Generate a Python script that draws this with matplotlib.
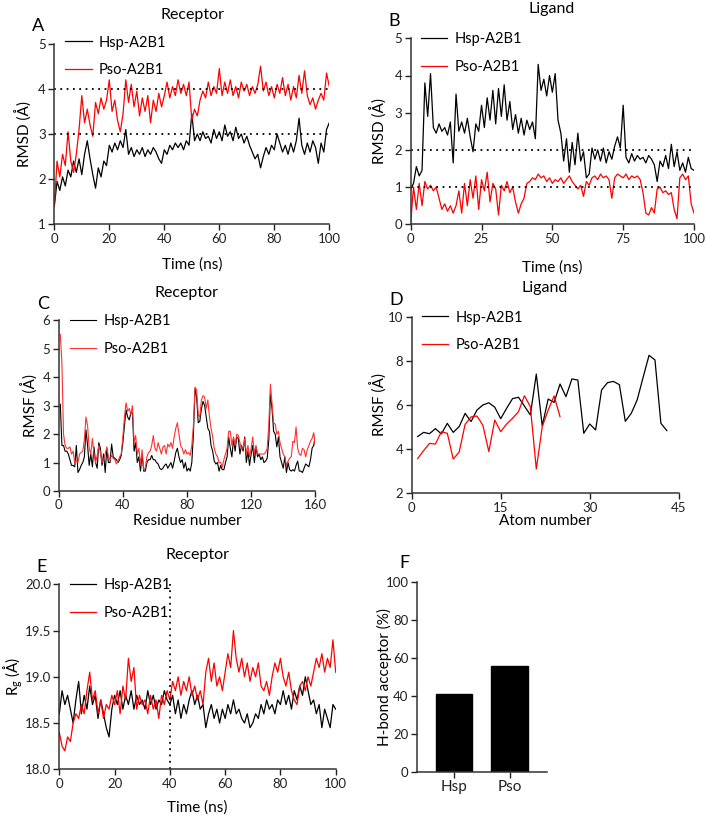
import matplotlib
matplotlib.use("Agg")
import matplotlib.pyplot as plt
import numpy as np

plt.rcParams['font.family'] = ['Lato', 'DejaVu Sans']
plt.rcParams['mathtext.fontset'] = 'custom'
plt.rcParams['mathtext.rm'] = 'Lato'
plt.rcParams['mathtext.it'] = 'Lato'

# ---------------- data ----------------
time_ns = list(range(0, 101))

rmsd_rec_hsp = [1.40, 1.95, 1.75, 2.05, 1.85, 2.20, 2.05, 2.40, 2.15, 2.45, 2.10, 2.55, 2.85, 2.45, 2.10, 1.80,
                2.25, 2.05, 2.40, 2.30, 2.75, 2.60, 2.80, 2.65, 2.85, 2.70, 3.10, 2.55, 2.70, 2.50, 2.65, 2.55,
                2.70, 2.50, 2.65, 2.55, 2.70, 2.60, 2.45, 2.35, 2.65, 2.55, 2.75, 2.65, 2.80, 2.70, 2.80, 2.65,
                2.85, 2.75, 3.45, 2.85, 3.00, 2.85, 3.05, 2.90, 2.95, 2.80, 3.10, 2.90, 3.05, 2.85, 3.20, 2.95,
                3.05, 2.85, 3.15, 2.90, 3.00, 2.80, 2.95, 2.75, 2.60, 2.45, 2.55, 2.25, 2.50, 2.70, 2.55, 2.75,
                2.65, 3.00, 2.80, 2.60, 2.75, 2.55, 2.80, 2.60, 2.85, 3.35, 2.75, 2.55, 2.80, 2.60, 2.85, 2.70,
                2.35, 2.80, 2.60, 3.10, 3.25]
rmsd_rec_pso = [1.40, 2.40, 2.05, 2.55, 2.30, 3.05, 2.40, 2.15, 2.55, 3.10, 3.85, 3.25, 3.55, 3.20, 2.95, 3.70,
                3.45, 3.80, 3.55, 3.75, 4.20, 3.50, 3.75, 3.30, 3.05, 3.45, 4.20, 3.70, 4.10, 3.60, 3.95, 3.40,
                3.80, 3.50, 3.85, 3.25, 3.75, 3.50, 3.90, 3.60, 3.85, 4.15, 3.80, 4.05, 3.85, 4.20, 3.90, 4.10,
                3.85, 4.15, 3.30, 3.55, 3.40, 3.75, 3.95, 3.80, 4.15, 3.85, 4.05, 3.90, 4.45, 3.85, 4.15, 3.90,
                4.20, 3.85, 4.05, 3.80, 4.15, 3.95, 4.10, 3.85, 4.05, 3.90, 4.10, 4.50, 3.95, 4.15, 3.85, 4.05,
                3.80, 4.10, 3.90, 4.25, 3.85, 4.10, 3.75, 4.05, 3.80, 4.30, 3.90, 4.40, 3.85, 3.65, 3.80, 3.55,
                3.75, 3.90, 3.75, 4.35, 4.05]

rmsd_lig_hsp = [0.95, 1.10, 1.55, 1.30, 1.45, 3.80, 2.90, 4.05, 2.60, 2.45, 2.70, 2.50, 2.60, 2.40, 2.75, 1.65,
                3.50, 2.50, 2.75, 2.45, 2.85, 2.35, 1.95, 2.70, 2.50, 3.20, 2.60, 3.40, 2.80, 3.60, 2.70, 3.65,
                2.90, 3.75, 2.80, 3.30, 2.55, 2.95, 2.45, 2.85, 2.40, 2.80, 2.55, 2.75, 2.30, 4.30, 3.60, 3.90,
                3.45, 4.00, 3.55, 4.05, 2.80, 2.45, 1.70, 2.30, 1.40, 2.20, 1.60, 2.45, 1.70, 1.95, 1.25, 1.35,
                2.05, 1.75, 2.00, 1.70, 2.05, 1.65, 1.95, 1.75, 2.10, 2.35, 2.05, 3.20, 1.80, 1.65, 1.90, 1.70,
                1.85, 1.75, 1.80, 1.65, 1.85, 1.75, 1.60, 1.15, 1.70, 1.55, 1.85, 1.50, 2.15, 1.55, 1.95, 1.45,
                1.65, 1.40, 1.80, 1.50, 1.45]
rmsd_lig_pso = [0.05, 1.00, 0.40, 1.10, 0.50, 1.15, 0.95, 1.05, 0.90, 1.00, 0.70, 0.40, 0.55, 0.35, 0.50, 0.30,
                0.50, 0.90, 0.30, 1.10, 0.50, 1.20, 0.70, 1.30, 0.40, 1.20, 0.90, 1.40, 0.60, 1.10, 0.95, 0.25,
                1.05, 0.90, 1.15, 0.85, 1.00, 0.60, 0.30, 0.55, 0.70, 1.10, 1.15, 1.25, 1.20, 1.35, 1.25, 1.30,
                1.15, 1.25, 1.10, 1.20, 1.15, 1.25, 1.10, 1.20, 1.30, 1.15, 1.05, 0.95, 1.05, 0.75, 1.15, 1.05,
                1.25, 1.30, 1.20, 1.35, 1.25, 1.30, 1.20, 0.70, 1.25, 1.35, 1.30, 1.25, 1.35, 1.20, 1.30, 1.25,
                1.30, 1.20, 0.85, 0.30, 0.25, 0.45, 0.30, 0.95, 1.00, 0.85, 0.90, 0.80, 0.85, 0.40, 0.15, 1.25,
                1.35, 1.20, 1.30, 0.55, 0.30]

residues = list(range(1, 161))
rmsf_rec_hsp = [3.05, 1.6, 1.6, 1.4, 1.4, 1.3, 1.1, 0.9, 0.9, 0.85, 1.6, 0.65, 0.75, 0.9, 1.0, 1.2, 2.15, 1.6, 0.9, 1.3,
                0.85, 1.55, 1.0, 0.8, 1.7, 1.5, 0.9, 1.3, 0.65, 1.5, 1.0, 1.0, 1.65, 1.2, 1.15, 1.1, 1.0, 1.1, 1.25, 1.7,
                2.3, 2.85, 2.6, 2.5, 2.75, 2.75, 1.4, 1.7, 1.0, 1.2, 0.7, 1.3, 0.7, 0.7, 1.0, 1.1, 1.1, 1.25, 1.1, 1.1,
                1.0, 0.95, 0.8, 0.75, 0.8, 0.9, 0.95, 0.8, 0.9, 1.0, 0.8, 1.05, 1.35, 1.5, 1.2, 1.0, 1.1, 0.8, 1.0, 0.7,
                0.8, 0.7, 1.0, 2.0, 3.6, 3.3, 2.4, 2.45, 2.9, 3.15, 3.0, 2.6, 2.2, 2.1, 1.6, 1.4, 1.05, 0.95, 1.0, 0.7,
                0.9, 0.75, 0.75, 1.0, 1.2, 1.9, 1.5, 1.2, 1.85, 1.4, 1.9, 1.85, 1.3, 1.6, 1.4, 1.9, 1.0, 1.4, 0.9, 1.3,
                1.6, 1.0, 1.55, 1.2, 1.3, 1.1, 1.2, 1.0, 1.05, 1.15, 1.8, 3.4, 2.9, 2.1, 2.0, 1.55, 1.9, 1.2, 1.0, 0.8,
                1.2, 0.65, 1.0, 0.75, 0.7, 0.75, 0.7, 0.9, 1.05, 0.7, 0.7, 0.65, 0.8, 0.95, 0.9, 0.85, 1.1, 1.5, 1.6, 1.95]
rmsf_rec_pso = [5.5, 4.5, 2.0, 1.6, 1.5, 1.5, 1.55, 1.3, 1.4, 1.0, 1.05, 1.0, 1.3, 1.35, 1.4, 1.8, 2.6, 2.3, 1.5, 1.3,
                1.85, 1.3, 1.0, 1.25, 1.6, 1.35, 1.0, 1.1, 1.3, 1.55, 1.2, 1.1, 1.25, 1.15, 1.1, 0.95, 1.05, 1.2, 1.3, 1.9,
                2.6, 3.1, 2.8, 2.9, 2.7, 3.0, 1.7, 1.95, 1.3, 1.5, 0.9, 1.45, 0.75, 0.8, 1.2, 1.35, 1.4, 1.6, 1.95, 1.5,
                1.4, 1.7, 1.5, 1.3, 1.55, 1.6, 1.3, 1.65, 1.55, 1.7, 1.5, 1.9, 2.2, 2.4, 2.0, 1.6, 1.5, 1.3, 1.45, 1.3,
                1.35, 1.25, 1.6, 2.3, 3.65, 3.55, 2.7, 2.6, 3.2, 3.35, 3.3, 2.9, 3.2, 2.6, 2.2, 1.9, 1.5, 1.3, 1.2, 1.0,
                1.0, 0.85, 1.1, 1.3, 1.5, 2.1, 2.1, 1.6, 1.9, 1.6, 2.0, 1.95, 1.7, 1.5, 1.5, 1.85, 1.3, 1.6, 1.2, 1.5,
                1.9, 1.3, 1.6, 1.3, 1.3, 1.3, 1.3, 1.3, 1.35, 1.5, 2.3, 3.75, 3.1, 2.4, 2.35, 2.0, 2.1, 1.7, 1.5, 1.3,
                1.2, 0.9, 1.05, 1.15, 1.2, 1.75, 1.7, 2.25, 1.5, 1.3, 1.25, 1.5, 1.45, 1.2, 1.45, 1.6, 1.75, 1.85, 2.05, 1.6]

atoms_hsp = list(range(1, 44))
rmsf_lig_hsp = [4.57, 4.76, 4.70, 4.93, 4.69, 5.17, 4.76, 5.02, 5.62, 5.25, 5.77, 6.00, 6.10, 5.90, 5.38, 5.85,
                6.29, 6.35, 5.95, 5.55, 7.40, 5.05, 6.27, 6.12, 6.95, 6.38, 7.18, 7.13, 4.72, 5.14, 4.87, 6.68,
                7.01, 7.07, 6.92, 5.26, 5.62, 6.23, 7.25, 8.25, 8.04, 5.17, 4.84]
atoms_pso = list(range(1, 26))
rmsf_lig_pso = [3.57, 3.93, 4.26, 4.23, 4.79, 4.72, 3.55, 3.87, 5.12, 5.46, 5.50, 5.08, 3.89, 5.32, 4.79, 5.14,
                5.40, 5.70, 6.42, 5.92, 3.10, 5.02, 5.77, 6.41, 5.47]

rg_hsp = [18.60, 18.85, 18.70, 18.80, 18.65, 18.50, 18.75, 18.95, 18.60, 18.80, 18.65, 18.90, 18.70, 18.80, 18.55,
          18.75, 18.60, 18.45, 18.35, 18.65, 18.80, 18.70, 18.85, 18.65, 18.80, 18.70, 18.85, 18.65, 18.80, 18.70,
          18.75, 18.65, 18.85, 18.70, 18.80, 18.65, 18.75, 18.70, 18.85, 18.75, 18.70, 18.80, 18.60, 18.75, 18.55,
          18.70, 18.60, 18.75, 18.85, 18.70, 18.80, 18.65, 18.70, 18.45, 18.60, 18.70, 18.55, 18.65, 18.50, 18.65,
          18.55, 18.70, 18.60, 18.75, 18.60, 18.65, 18.55, 18.50, 18.60, 18.45, 18.50, 18.60, 18.55, 18.70, 18.60,
          18.75, 18.65, 18.70, 18.60, 18.75, 18.70, 18.85, 18.70, 18.80, 18.65, 18.85, 18.75, 18.90, 18.80, 19.00,
          18.85, 18.70, 18.75, 18.60, 18.70, 18.45, 18.65, 18.55, 18.45, 18.70, 18.65]
rg_pso = [18.40, 18.25, 18.20, 18.35, 18.30, 18.50, 18.60, 18.55, 18.70, 18.60, 18.85, 19.05, 18.75, 18.85, 18.60,
          18.75, 18.55, 18.70, 18.65, 18.80, 18.70, 18.85, 18.60, 18.90, 18.75, 19.20, 18.95, 19.10, 18.65, 18.80,
          18.70, 18.75, 18.60, 18.80, 18.65, 18.75, 18.55, 18.80, 18.70, 18.85, 18.75, 18.95, 18.85, 19.00, 18.80,
          18.95, 18.85, 19.00, 18.80, 18.90, 18.75, 18.85, 18.70, 19.05, 19.20, 18.95, 19.15, 18.90, 19.00, 18.85,
          19.05, 19.25, 19.10, 19.50, 19.20, 19.05, 19.20, 19.00, 19.15, 18.95, 19.10, 19.00, 19.15, 18.90, 18.85,
          18.95, 18.80, 19.00, 19.15, 19.05, 19.20, 19.00, 18.90, 19.05, 18.85, 18.75, 18.70, 18.90, 18.95, 18.85,
          19.00, 18.90, 19.05, 19.20, 19.10, 19.25, 19.05, 19.20, 19.10, 19.40, 19.05]

hbond_labels = ["Hsp", "Pso"]
hbond_values = [40.8, 55.9]

series_labels = ["Hsp-A2B1", "Pso-A2B1"]

# ---------------- figure ----------------
W, H = 706, 819
fig = plt.figure(figsize=(W / 100, H / 100), dpi=100)

def ax_px(left, top, right, bottom):
    return fig.add_axes([left / W, 1 - bottom / H, (right - left) / W, (bottom - top) / H])

TICK = 9.5
LAB = 11
LEG = 10.5
TIT = 11.5
LET = 13

def style(ax, ylab_x, xlab_y=None):
    for s in ['top', 'right']:
        ax.spines[s].set_visible(False)
    for s in ['left', 'bottom']:
        ax.spines[s].set_linewidth(1.1)
        ax.spines[s].set_color('#333333')
    ax.tick_params(direction='out', length=4, width=1.0, labelsize=TICK, colors='#222222', pad=2)
    ax.yaxis.set_label_coords(ylab_x, 0.5)
    if xlab_y is not None:
        ax.xaxis.set_label_coords(0.5, xlab_y)

def legend(ax, x=0.04, y=1.035):
    ax.legend(loc='upper left', bbox_to_anchor=(x, y), frameon=False, fontsize=LEG,
              handlelength=1.8, handletextpad=0.5, labelspacing=0.95, borderpad=0, borderaxespad=0)

lw = 0.9
DOT = (0, (1, 2.5))

# A
axA = ax_px(54.3, 43.7, 329.3, 224.3)
axA.plot(time_ns, rmsd_rec_hsp, color='black', lw=lw, label=series_labels[0])
axA.plot(time_ns, rmsd_rec_pso, color='red', lw=lw, label=series_labels[1])
for v in (3, 4):
    axA.axhline(v, color='black', ls=DOT, lw=1.3)
axA.set_xlim(0, 100); axA.set_ylim(1, 5)
axA.set_xticks([0, 20, 40, 60, 80, 100]); axA.set_yticks([1, 2, 3, 4, 5])
axA.set_xlabel("Time (ns)", fontsize=LAB, va='center')
axA.set_ylabel("RMSD (Å)", fontsize=LAB, va='center')
style(axA, -0.11, -0.225); legend(axA, 0.04, 1.045)
fig.text(192 / W, 1 - 15 / H, "Receptor", ha='center', va='center', fontsize=TIT)
fig.text(38 / W, 1 - 26 / H, "A", ha='center', va='center', fontsize=LET)

# B
axB = ax_px(410.7, 38.3, 694, 224.3)
axB.plot(time_ns, rmsd_lig_hsp, color='black', lw=lw, label=series_labels[0])
axB.plot(time_ns, rmsd_lig_pso, color='red', lw=lw, label=series_labels[1])
for v in (1, 2):
    axB.axhline(v, color='black', ls=DOT, lw=1.3)
axB.set_xlim(0, 100); axB.set_ylim(0, 5)
axB.set_xticks([0, 25, 50, 75, 100]); axB.set_yticks([0, 1, 2, 3, 4, 5])
axB.set_xlabel("Time (ns)", fontsize=LAB, va='center')
axB.set_ylabel("RMSD (Å)", fontsize=LAB, va='center')
style(axB, -0.112, -0.23); legend(axB, 0.036, 1.035)
fig.text(552 / W, 1 - 9 / H, "Ligand", ha='center', va='center', fontsize=TIT)
fig.text(394 / W, 1 - 21 / H, "B", ha='center', va='center', fontsize=LET)

# C
axC = ax_px(58.7, 320.3, 315.3, 491)
axC.plot(residues, rmsf_rec_hsp, color='black', lw=0.8, label=series_labels[0])
axC.plot(residues, rmsf_rec_pso, color='#ff3030', lw=0.8, label=series_labels[1])
axC.set_xlim(0, 160); axC.set_ylim(0, 6)
axC.set_xticks([0, 40, 80, 120, 160]); axC.set_yticks([0, 1, 2, 3, 4, 5, 6])
axC.set_xlabel("Residue number", fontsize=LAB, va='center')
axC.set_ylabel("RMSF (Å)", fontsize=LAB, va='center')
style(axC, -0.112, -0.176); legend(axC, 0.044, 1.035)
fig.text(187 / W, 1 - 293 / H, "Receptor", ha='center', va='center', fontsize=TIT)
fig.text(43 / W, 1 - 304 / H, "C", ha='center', va='center', fontsize=LET)

# D
axD = ax_px(411.7, 316.7, 678.7, 493.3)
axD.plot(atoms_hsp, rmsf_lig_hsp, color='black', lw=0.9, label=series_labels[0])
axD.plot(atoms_pso, rmsf_lig_pso, color='red', lw=0.9, label=series_labels[1])
axD.set_xlim(0, 45); axD.set_ylim(2, 10)
axD.set_xticks([0, 15, 30, 45]); axD.set_yticks([2, 4, 6, 8, 10])
axD.set_xlabel("Atom number", fontsize=LAB, va='center')
axD.set_ylabel("RMSF (Å)", fontsize=LAB, va='center')
style(axD, -0.122, -0.157); legend(axD, 0.039, 1.035)
fig.text(545 / W, 1 - 288 / H, "Ligand", ha='center', va='center', fontsize=TIT)
fig.text(396 / W, 1 - 300 / H, "D", ha='center', va='center', fontsize=LET)

# E
axE = ax_px(59.3, 584.3, 335.7, 769.3)
axE.plot(time_ns, rg_hsp, color='black', lw=lw, label=series_labels[0])
axE.plot(time_ns, rg_pso, color='red', lw=lw, label=series_labels[1])
axE.axvline(40, color='black', ls=DOT, lw=1.3)
axE.set_xlim(0, 100); axE.set_ylim(18.0, 20.0)
axE.set_xticks([0, 20, 40, 60, 80, 100]); axE.set_yticks([18.0, 18.5, 19.0, 19.5, 20.0])
axE.set_yticklabels(["18.0", "18.5", "19.0", "19.5", "20.0"])
axE.set_xlabel("Time (ns)", fontsize=LAB, va='center')
axE.set_ylabel("R$_{\\mathrm{g}}$ (Å)", fontsize=LAB, va='center')
style(axE, -0.165, -0.209); legend(axE, 0.039, 1.035)
fig.text(197.5 / W, 1 - 555 / H, "Receptor", ha='center', va='center', fontsize=TIT)
fig.text(42 / W, 1 - 567 / H, "E", ha='center', va='center', fontsize=LET)

# F
axF = ax_px(416.7, 582, 546.7, 771.7)
axF.bar([0, 1], hbond_values, width=0.657, color='black', edgecolor='black')
axF.set_xlim(-0.67, 1.664); axF.set_ylim(0, 100)
axF.set_xticks([0, 1]); axF.set_xticklabels(hbond_labels)
axF.set_yticks([0, 20, 40, 60, 80, 100])
axF.set_ylabel("H-bond acceptor (%)", fontsize=LAB, va='center')
style(axF, -0.25)
axF.tick_params(axis='x', labelsize=LAB)
fig.text(404 / W, 1 - 563 / H, "F", ha='center', va='center', fontsize=LET)

fig.savefig("out.png", dpi=100)
